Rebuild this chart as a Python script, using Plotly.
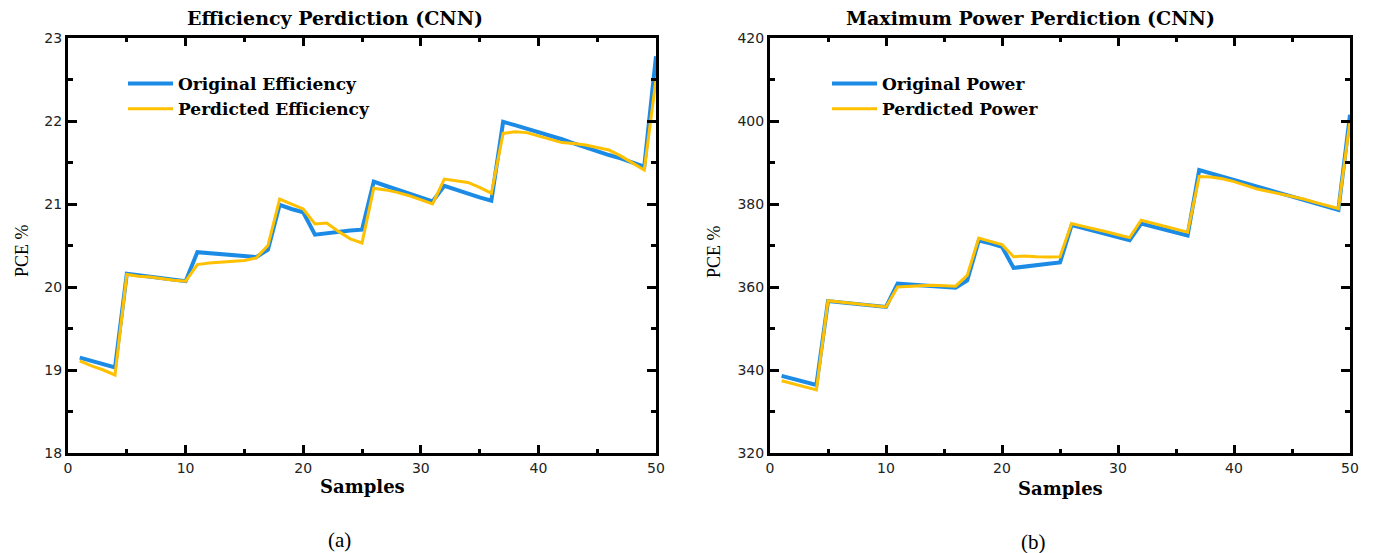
import plotly.graph_objects as go

samples = list(range(1, 51))

eff_original = [19.15, 19.11, 19.07, 19.03, 20.16, 20.14, 20.13, 20.11, 20.09, 20.07,
                20.42, 20.41, 20.40, 20.39, 20.38, 20.36, 20.45, 20.99, 20.94, 20.90,
                20.63, 20.65, 20.67, 20.68, 20.69, 21.27, 21.22, 21.17, 21.13, 21.08,
                21.03, 21.22, 21.17, 21.13, 21.08, 21.04, 21.99, 21.95, 21.91, 21.86,
                21.82, 21.78, 21.73, 21.68, 21.64, 21.59, 21.55, 21.50, 21.45, 22.78]

eff_predicted = [19.11, 19.05, 19.00, 18.94, 20.15, 20.13, 20.12, 20.10, 20.08, 20.07,
                 20.27, 20.29, 20.30, 20.31, 20.32, 20.35, 20.50, 21.06, 21.00, 20.94,
                 20.76, 20.77, 20.67, 20.58, 20.53, 21.19, 21.17, 21.14, 21.10, 21.05,
                 21.00, 21.30, 21.28, 21.26, 21.20, 21.13, 21.85, 21.87, 21.86, 21.82,
                 21.78, 21.74, 21.73, 21.71, 21.68, 21.65, 21.58, 21.50, 21.41, 22.50]

pow_original = [338.6, 337.9, 337.1, 336.4, 356.6, 356.3, 356.0, 355.8, 355.5, 355.2,
                360.8, 360.6, 360.4, 360.2, 360.0, 359.8, 361.6, 371.2, 370.5, 369.7,
                364.6, 365.0, 365.3, 365.6, 365.9, 374.9, 374.2, 373.5, 372.7, 372.0,
                371.3, 375.3, 374.6, 373.8, 373.1, 372.4, 388.2, 387.4, 386.6, 385.8,
                385.0, 384.2, 383.4, 382.6, 381.8, 381.0, 380.2, 379.4, 378.6, 401.5]

pow_predicted = [337.4, 336.7, 335.9, 335.2, 356.7, 356.4, 356.1, 355.8, 355.5, 355.2,
                 360.0, 360.2, 360.3, 360.4, 360.3, 360.2, 362.8, 371.8, 371.0, 370.2,
                 367.3, 367.5, 367.3, 367.2, 367.3, 375.3, 374.6, 374.0, 373.3, 372.6,
                 371.9, 376.1, 375.4, 374.7, 374.0, 373.2, 386.6, 386.5, 386.1, 385.4,
                 384.5, 383.6, 383.0, 382.4, 381.8, 381.2, 380.4, 379.6, 378.9, 400.0]

BLUE = "#1C8BE6"
YELLOW = "#FFC000"
W, H = 1375, 553

fig = go.Figure()
fig.add_trace(go.Scatter(x=samples, y=eff_original, mode="lines", name="Original Efficiency",
                         line=dict(color=BLUE, width=4), xaxis="x", yaxis="y", legend="legend"))
fig.add_trace(go.Scatter(x=samples, y=eff_predicted, mode="lines", name="Perdicted Efficiency",
                         line=dict(color=YELLOW, width=3), xaxis="x", yaxis="y", legend="legend"))
fig.add_trace(go.Scatter(x=samples, y=pow_original, mode="lines", name="Original Power",
                         line=dict(color=BLUE, width=4), xaxis="x2", yaxis="y2", legend="legend2"))
fig.add_trace(go.Scatter(x=samples, y=pow_predicted, mode="lines", name="Perdicted Power",
                         line=dict(color=YELLOW, width=3), xaxis="x2", yaxis="y2", legend="legend2"))

tickfont = dict(family="DejaVu Sans", size=14, color="#222222")
common = dict(showline=True, linecolor="black", linewidth=3, mirror="allticks",
              ticks="inside", tickwidth=3, tickcolor="black", showgrid=False,
              zeroline=False, tickfont=tickfont, automargin=False)

ydom = [1 - 453 / H, 1 - 38 / H]
legfont = dict(family="DejaVu Serif", size=17, color="black", weight="bold")

fig.update_layout(
    template="none",
    width=W, height=H,
    margin=dict(l=0, r=0, t=0, b=0, autoexpand=False),
    paper_bgcolor="white", plot_bgcolor="white",
    xaxis=dict(domain=[68 / W, 656 / W], range=[0, 50], dtick=10, ticklen=8,
               minor=dict(dtick=5, ticks="inside", ticklen=4, tickwidth=3, tickcolor="black"),
               anchor="y", **common),
    yaxis=dict(domain=ydom, range=[18, 23], dtick=1, ticklen=9,
               minor=dict(dtick=0.5, ticks="inside", ticklen=5, tickwidth=3, tickcolor="black"),
               anchor="x", **common),
    xaxis2=dict(domain=[770 / W, 1350 / W], range=[0, 50], dtick=10, ticklen=8,
                minor=dict(dtick=5, ticks="inside", ticklen=4, tickwidth=3, tickcolor="black"),
                anchor="y2", **common),
    yaxis2=dict(domain=ydom, range=[320, 420], dtick=20, ticklen=9,
                minor=dict(dtick=10, ticks="inside", ticklen=5, tickwidth=3, tickcolor="black"),
                anchor="x2", **common),
    legend=dict(x=123 / W, y=1 - 66 / H, xanchor="left", yanchor="top",
                bgcolor="rgba(0,0,0,0)", itemwidth=45, tracegroupgap=0, font=legfont),
    legend2=dict(x=827 / W, y=1 - 66 / H, xanchor="left", yanchor="top",
                 bgcolor="rgba(0,0,0,0)", itemwidth=45, tracegroupgap=0, font=legfont),
    showlegend=True,
)

annos = [
    dict(text="<b>Efficiency Perdiction (CNN)</b>", x=335 / W, y=1 - 18 / H, size=19, fam="DejaVu Serif"),
    dict(text="<b>Maximum Power Perdiction (CNN)</b>", x=1030 / W, y=1 - 18 / H, size=19, fam="DejaVu Serif"),
    dict(text="<b>Samples</b>", x=362 / W, y=1 - 486 / H, size=18, fam="DejaVu Serif"),
    dict(text="<b>Samples</b>", x=1060 / W, y=1 - 488 / H, size=18, fam="DejaVu Serif"),
    dict(text="(a)", x=339 / W, y=1 - 540 / H, size=21, fam="Liberation Serif"),
    dict(text="(b)", x=1033 / W, y=1 - 542 / H, size=21, fam="Liberation Serif"),
]
for a in annos:
    fig.add_annotation(text=a["text"], x=a["x"], y=a["y"], xref="paper", yref="paper",
                       xanchor="center", yanchor="middle", showarrow=False,
                       font=dict(family=a["fam"], size=a["size"], color="black"))
for xp in (22, 714):
    fig.add_annotation(text="PCE %", x=xp / W, y=1 - 251 / H, xref="paper", yref="paper",
                       xanchor="center", yanchor="middle", showarrow=False, textangle=-90,
                       font=dict(family="Liberation Serif", size=18, color="black"))

fig.write_html("out.html")
